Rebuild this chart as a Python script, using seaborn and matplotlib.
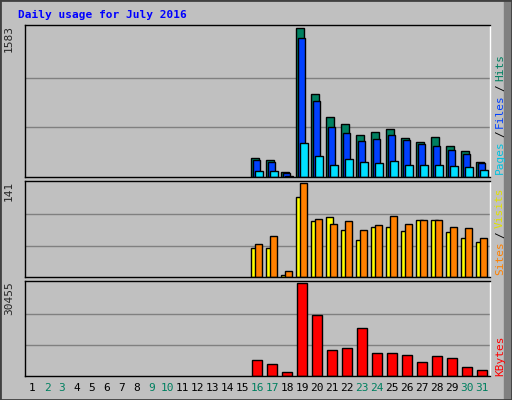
import numpy as np
import pandas as pd
import seaborn as sns
import matplotlib
matplotlib.use("Agg")
import matplotlib.pyplot as plt
from matplotlib.patches import Rectangle

days = list(range(1, 32))
weekends = [2, 3, 9, 10, 16, 17, 23, 24, 30, 31]
active = list(range(16, 32))

hits = [202, 180, 53, 1583, 882, 637, 563, 446, 478, 510, 414, 372, 425, 329, 276, 159]
files = [180, 159, 42, 1477, 807, 531, 467, 382, 404, 446, 393, 350, 329, 287, 244, 149]
pages = [64, 64, 10, 361, 223, 127, 191, 159, 149, 170, 127, 127, 127, 117, 106, 74]
visits = [43, 43, 3, 120, 84, 90, 70, 55, 75, 75, 69, 85, 85, 67, 58, 52]
sites = [50, 62, 9, 141, 87, 80, 84, 70, 78, 91, 80, 85, 85, 75, 73, 58]
kbytes = [5240, 3930, 1300, 30455, 20000, 8500, 9200, 15800, 7500, 7500, 7000, 4600, 6500, 5900, 2950, 1970]

sns.set_style("white")
plt.rcParams["font.family"] = ["DejaVu Sans Mono"]

BG = "#C0C0C0"
fig = plt.figure(figsize=(5.12, 4.0), dpi=100, facecolor=BG)
fig.patches.append(Rectangle((0.985, 0), 0.015, 1, transform=fig.transFigure,
                             color="#808080", zorder=0))
fig.patches.append(Rectangle((0, 0), 1, 1, transform=fig.transFigure,
                             fill=False, ec="#404040", lw=2, zorder=5))

left, width = 25 / 512, 465 / 512
ax1 = fig.add_axes([left, 1 - 177 / 400, width, 152 / 400])
ax2 = fig.add_axes([left, 1 - 277 / 400, width, 96 / 400])
ax3 = fig.add_axes([left, 1 - 376 / 400, width, 95 / 400])

def style(ax, top):
    ax.set_facecolor(BG)
    ax.set_xlim(0.53, 31.53)
    ax.set_ylim(0, top * 1.02)
    for g in (top / 3, 2 * top / 3):
        ax.axhline(g, color="#808080", lw=1, zorder=0)
    ax.set_xticks([])
    ax.set_yticks([])
    for s in ax.spines.values():
        s.set_color("black")
        s.set_linewidth(1)
    ax.spines["right"].set_color("white")
    ax.text(-0.035, 1.0, str(top), transform=ax.transAxes, rotation=90,
            ha="center", va="top", fontsize=8)

def bars(ax, vals, offset, w, color):
    x = np.array(active) + offset
    ax.bar(x, vals, width=w, color=color, edgecolor="black", linewidth=1, zorder=2)

style(ax1, 1583)
bars(ax1, hits, -0.15, 0.5, "#008060")
bars(ax1, files, -0.05, 0.5, "#0040FF")
bars(ax1, pages, 0.12, 0.5, "#00E0FF")

style(ax2, 141)
bars(ax2, visits, -0.15, 0.45, "#FFFF00")
bars(ax2, sites, 0.12, 0.45, "#FF8000")

style(ax3, 30455)
df = pd.DataFrame({"day": [float(d) for d in active], "kbytes": kbytes})
sns.barplot(data=df, x="day", y="kbytes", native_scale=True, width=0.65,
            color="#FF0000", saturation=1, edgecolor="black", linewidth=1,
            ax=ax3, zorder=2)
ax3.set_xlabel("")
ax3.set_ylabel("")
ax3.set_xlim(0.53, 31.53)
ax3.set_xticks([])
ax3.set_yticks([])

for d in days:
    ax3.text(d, -0.13, str(d), transform=ax3.get_xaxis_transform(), ha="center",
             va="center", fontsize=8,
             color="#008060" if d in weekends else "black")

fig.text(18 / 512, 1 - 15 / 400, "Daily usage for July 2016", color="#0000FF",
         fontsize=8, fontweight="bold", va="center")

renderer = fig.canvas.get_renderer()

def side_text(parts, ybot_px):
    # stack rotated pieces bottom-to-top using their real extents
    y = 1 - ybot_px / 400
    for txt, col in parts:
        t = fig.text(500 / 512, y, txt, rotation=90, ha="center", va="bottom",
                     fontsize=8, color=col)
        h = t.get_window_extent(renderer).height
        y += (h + 3) / 400

side_text([("Pages", "#00C0E0"), ("/", "black"), ("Files", "#0040FF"),
           ("/", "black"), ("Hits", "#008060")], 174)
side_text([("Sites", "#FF8000"), ("/", "black"), ("Visits", "#E0E000")], 275)
side_text([("KBytes", "#FF0000")], 376)

fig.savefig("out.png", dpi=100, facecolor=BG)
